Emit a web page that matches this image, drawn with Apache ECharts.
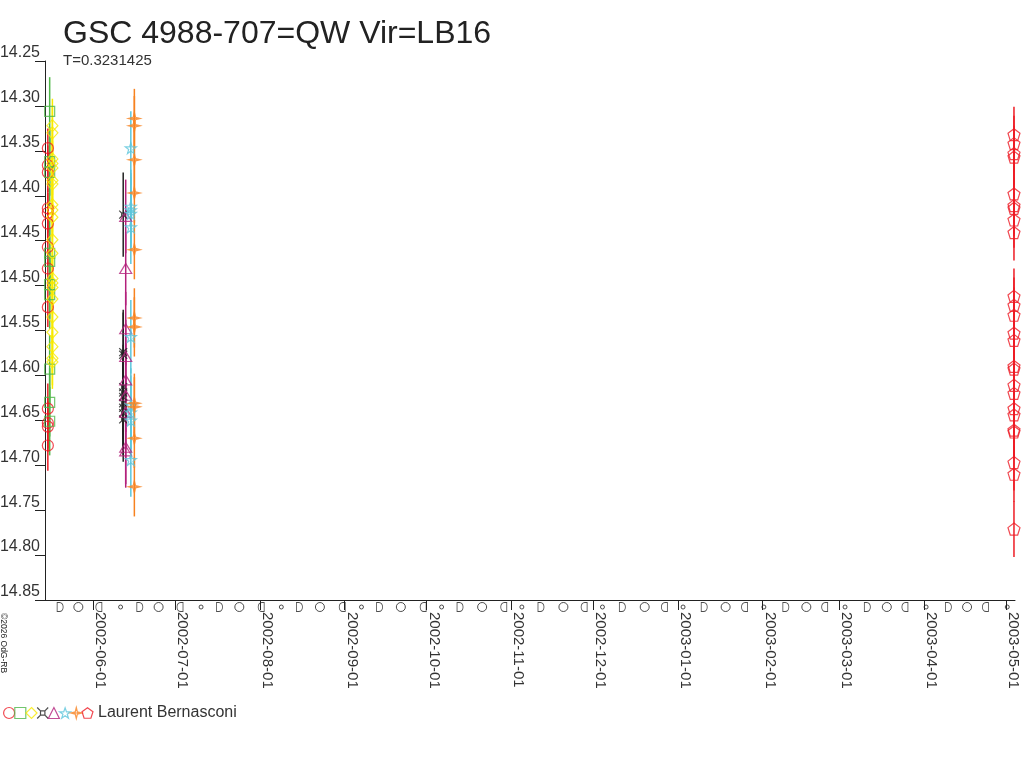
<!DOCTYPE html>
<html>
<head>
<meta charset="utf-8">
<script src="https://cdn.jsdelivr.net/npm/echarts@6/dist/echarts.min.js"></script>
<style>
html, body { margin: 0; padding: 0; background: #fff; }
#chart { width: 1024px; height: 768px; }
</style>
</head>
<body>
<div id="chart"></div>
<script>
// observation nights (one date per symbol set)
var obsDates = ['2002-05-15 08:00', '2002-05-16 00:00', '2002-05-17 00:00', '2002-06-11 22:00',
    '2002-06-12 20:00', '2002-06-14 17:00', '2002-06-16 00:00', '2003-05-03 23:00'];

// magnitudes
var redCircleMag = [14.347, 14.366, 14.374, 14.414, 14.419, 14.431, 14.457, 14.481, 14.524,
    14.637, 14.653, 14.657, 14.678];
var redCircleErr = [0.022, 0.022, 0.022, 0.022, 0.022, 0.022, 0.022, 0.022, 0.022,
    0.028, 0.028, 0.028, 0.028];
var greenSquareMag = [14.306, 14.362, 14.374, 14.464, 14.473, 14.499, 14.510, 14.593, 14.630, 14.651];
var greenSquareErr = 0.038;
var yellowDiamondMag = [14.322, 14.330, 14.359, 14.364, 14.369, 14.383, 14.387, 14.410, 14.416, 14.424,
    14.449, 14.464, 14.492, 14.497, 14.502, 14.515, 14.535, 14.552, 14.568, 14.581, 14.585];
var yellowDiamondErr = 0.030;
var blackCurrencyMag = [14.421, 14.574, 14.577, 14.613, 14.619, 14.624, 14.631, 14.636, 14.642, 14.649];
var blackCurrencyErr = 0.047;
var purpleTriangleMag = [14.423, 14.481, 14.548, 14.579, 14.605, 14.622, 14.641, 14.680, 14.684];
var purpleTriangleErr = 0.041;
var cyanStarMag = [14.347, 14.412, 14.416, 14.420, 14.435, 14.557, 14.633, 14.641, 14.650, 14.694];
var cyanStarErr = 0.041;
var orangeCrossMag = [14.314, 14.322, 14.360, 14.397, 14.460, 14.536, 14.546, 14.631, 14.635, 14.670, 14.724];
var orangeCrossErr = 0.033;
var redPentagonMag = [14.332, 14.342, 14.353, 14.357, 14.398, 14.411, 14.414, 14.427, 14.441, 14.512,
    14.522, 14.533, 14.553, 14.561, 14.590, 14.593, 14.611, 14.620, 14.637, 14.644, 14.661, 14.663,
    14.697, 14.710, 14.771];
var redPentagonErr = 0.031;

// moon phases along the time axis
var newMoons = ['2002-06-10 23:00', '2002-07-10 10:00', '2002-08-08 19:00', '2002-09-07 03:00',
    '2002-10-06 11:00', '2002-11-04 20:00', '2002-12-04 08:00', '2003-01-02 20:00',
    '2003-02-01 10:00', '2003-03-03 03:00', '2003-04-01 19:00', '2003-05-01 12:00'];
var firstQuarters = ['2002-05-19 20:00', '2002-06-18 00:00', '2002-07-17 04:00', '2002-08-15 10:00',
    '2002-09-13 18:00', '2002-10-13 05:00', '2002-11-11 20:00', '2002-12-11 15:00',
    '2003-01-10 14:00', '2003-02-09 11:00', '2003-03-11 07:00', '2003-04-09 23:00'];
var fullMoons = ['2002-05-26 12:00', '2002-06-24 21:00', '2002-07-24 10:00', '2002-08-22 22:00',
    '2002-09-21 13:00', '2002-10-21 07:00', '2002-11-20 01:00', '2002-12-19 19:00',
    '2003-01-18 10:00', '2003-02-16 23:00', '2003-03-18 10:00', '2003-04-16 19:00'];
var lastQuarters = ['2002-06-03 00:00', '2002-07-02 17:00', '2002-08-01 10:00', '2002-08-31 02:00',
    '2002-09-29 17:00', '2002-10-29 05:00', '2002-11-27 15:00', '2002-12-27 00:00',
    '2003-01-25 08:00', '2003-02-23 16:00', '2003-03-25 01:00', '2003-04-23 12:00'];

var axisMin = '2002-05-14 07:00';
var axisMax = '2003-05-04 08:00';
var yTicks = {min: 14.25, max: 14.85, step: 0.05};

var fontName = 'Liberation Sans, Arial, sans-serif';

var sets = [
    {name: 'c1', mag: redCircleMag, err: redCircleErr, color: '#ee1c25', symbol: 'circle', size: 11},
    {name: 'c2', mag: greenSquareMag, err: greenSquareErr, color: '#4fb84a', symbol: 'rect', size: 10},
    {name: 'c3', mag: yellowDiamondMag, err: yellowDiamondErr, color: '#f8ea00', symbol: 'diamond', size: [11, 12]},
    {name: 'c4', mag: blackCurrencyMag, err: blackCurrencyErr, color: '#222222',
        symbol: 'path://M0,0L3,3M10,0L7,3M0,10L3,7M10,10L7,7M3,3L7,3L7,7L3,7Z', size: 8},
    {name: 'c5', mag: purpleTriangleMag, err: purpleTriangleErr, color: '#b3207b', symbol: 'triangle', size: [12, 10]},
    {name: 'c6', mag: cyanStarMag, err: cyanStarErr, color: '#5cc6dc',
        symbol: 'path://M50,0L61.8,35.1L98.1,35.1L68.8,56.8L79.4,91L50,70L20.6,91L31.2,56.8L1.9,35.1L38.2,35.1Z', size: 11},
    {name: 'c7', mag: orangeCrossMag, err: orangeCrossErr, color: '#f7821f',
        symbol: 'path://M50,0L60,40L100,50L60,60L50,100L40,60L0,50L40,40ZM0,50L100,50', size: 12},
    {name: 'Laurent Bernasconi', mag: redPentagonMag, err: redPentagonErr, color: '#ee1c25',
        symbol: 'path://M50,0L97.6,34.5L79.4,90.5L20.6,90.5L2.4,34.5Z', size: 12}
];

var renderErrorBar = function(params, api) {
    var top = api.coord([api.value(0), api.value(1)]);
    var bottom = api.coord([api.value(0), api.value(2)]);
    return {
        type: 'line',
        shape: {x1: top[0], y1: top[1], x2: bottom[0], y2: bottom[1]},
        style: {stroke: api.visual('color'), lineWidth: 1.5}
    };
};

var series = [];
sets.forEach(function(set, idx) {
    var bars = [];
    set.mag.forEach(function(m, i) {
        var e = Array.isArray(set.err) ? set.err[i] : set.err;
        bars.push([obsDates[idx], m - e, m + e]);
    });
    series.push({
        type: 'custom',
        name: 'err-' + set.name,
        xAxisIndex: 0, yAxisIndex: 0,
        renderItem: renderErrorBar,
        itemStyle: {color: set.color},
        encode: {x: 0, y: [1, 2]},
        clip: false,
        silent: true,
        data: bars
    });
});
sets.forEach(function(set, idx) {
    series.push({
        type: 'scatter',
        name: set.name,
        xAxisIndex: 0, yAxisIndex: 0,
        symbol: set.symbol,
        symbolSize: set.size,
        clip: false,
        silent: true,
        itemStyle: {color: 'rgba(0,0,0,0)', borderColor: set.color, borderWidth: 1.2},
        data: set.mag.map(function(m) { return [obsDates[idx], m]; })
    });
});

// moon phase glyphs under the axis
var moonSets = [
    {dates: newMoons, symbol: 'circle', size: 4},
    {dates: firstQuarters, symbol: 'path://M0,0L3,0C9.5,0 9.5,10 3,10L0,10Z', size: [6, 9]},
    {dates: fullMoons, symbol: 'circle', size: 9},
    {dates: lastQuarters, symbol: 'path://M8,0L5,0C-1.5,0 -1.5,10 5,10L8,10Z', size: [6, 9]}
];
moonSets.forEach(function(ms) {
    series.push({
        type: 'scatter',
        xAxisIndex: 1, yAxisIndex: 1,
        symbol: ms.symbol,
        symbolSize: ms.size,
        silent: true,
        clip: false,
        itemStyle: {color: 'rgba(0,0,0,0)', borderColor: '#222', borderWidth: 1},
        data: ms.dates.map(function(d) { return [d, 0.5]; })
    });
});

var option = {
    animation: false,
    backgroundColor: '#fff',
    textStyle: {fontFamily: fontName},
    grid: [
        {left: 45, right: 9, top: 61, bottom: 168, outerBoundsMode: 'none', containLabel: false},
        {left: 45, right: 9, top: 602, height: 10, outerBoundsMode: 'none', containLabel: false}
    ],
    xAxis: [{
        type: 'time',
        gridIndex: 0,
        min: axisMin,
        max: axisMax,
        splitNumber: 12,
        axisLine: {lineStyle: {color: '#222', width: 1}},
        axisTick: {length: 10, lineStyle: {color: '#222'}},
        splitLine: {show: false},
        axisLabel: {
            rotate: -90,
            margin: 12,
            padding: [0, 0, 14, 0],
            color: '#333',
            fontSize: 15,
            fontFamily: fontName,
            formatter: '{yyyy}-{MM}-{dd}'
        }
    }, {
        type: 'time',
        gridIndex: 1,
        min: axisMin,
        max: axisMax,
        show: false
    }],
    yAxis: [{
        type: 'value',
        gridIndex: 0,
        inverse: true,
        min: yTicks.min,
        max: yTicks.max,
        interval: yTicks.step,
        axisLine: {show: true, lineStyle: {color: '#222', width: 1}},
        axisTick: {show: true, length: 10, lineStyle: {color: '#222'}},
        splitLine: {show: false},
        axisLabel: {
            margin: 5,
            verticalAlign: 'bottom',
            color: '#333',
            fontSize: 16,
            fontFamily: fontName,
            formatter: function(v) { return v.toFixed(2); }
        }
    }, {
        type: 'value',
        gridIndex: 1,
        min: 0,
        max: 1,
        show: false
    }],
    legend: {
        left: 3,
        top: 705,
        padding: 0,
        itemWidth: 11,
        itemHeight: 11,
        itemGap: -1,
        selectedMode: false,
        data: sets.map(function(s) { return s.name; }),
        itemStyle: {borderWidth: 1.2},
        textStyle: {fontSize: 16, color: '#333', fontFamily: fontName},
        formatter: function(name) {
            return name === 'Laurent Bernasconi' ? name : '';
        }
    },
    graphic: [
        {type: 'text', left: 63, top: 18,
            style: {text: 'GSC 4988-707=QW Vir=LB16', fontSize: 32, fill: '#222', fontFamily: fontName}},
        {type: 'text', left: 63, top: 53,
            style: {text: 'T=0.3231425', fontSize: 15, fill: '#333', fontFamily: fontName}},
        {type: 'text', x: 3, y: 613, rotation: -Math.PI / 2,
            style: {text: '\u00a92026 OdG-RB', fontSize: 8.5, fill: '#222', fontFamily: fontName,
                align: 'left', verticalAlign: 'middle'}}
    ],
    series: series
};

var mychart = echarts.init(document.getElementById('chart'));
mychart.setOption(option);
</script>
</body>
</html>
